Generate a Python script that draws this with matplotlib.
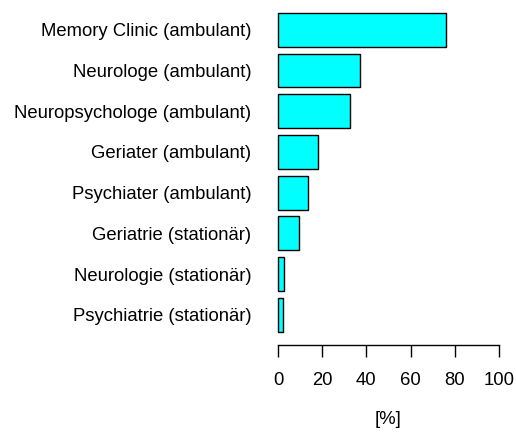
import numpy as np
import matplotlib
matplotlib.use("Agg")
import matplotlib.pyplot as plt

plt.rcParams["font.family"] = ["Liberation Sans", "DejaVu Sans"]

# data (top to bottom)
LABELS = [
    "Memory Clinic (ambulant)",
    "Neurologe (ambulant)",
    "Neuropsychologe (ambulant)",
    "Geriater (ambulant)",
    "Psychiater (ambulant)",
    "Geriatrie (stationär)",
    "Neurologie (stationär)",
    "Psychiatrie (stationär)",
]
VALUES = [75.9, 37.3, 32.7, 18.1, 13.4, 9.5, 2.6, 2.2]
XTICKS = [0, 20, 40, 60, 80, 100]
FS = 13.3

fig = plt.figure(figsize=(5.16, 4.32), dpi=100)
ax = fig.add_axes([0.5217, 0.2021, 0.4624, 0.7979])

n = len(VALUES)
ypos = np.arange(n)[::-1]
ax.barh(ypos, VALUES, height=1 / 1.2, color="#00FFFF",
        edgecolor="black", linewidth=1.0)

ax.set_xlim(-4, 104)
ax.set_ylim(-0.4167 - 0.313, n - 1 + 0.4167 + 0.313)

for s in ["top", "right", "left"]:
    ax.spines[s].set_visible(False)
ax.spines["bottom"].set_bounds(0, 100)
ax.spines["bottom"].set_linewidth(1.0)

ax.set_xticks(XTICKS)
ax.set_xticklabels([str(t) for t in XTICKS], fontsize=FS)
ax.tick_params(axis="x", length=8.6, width=1.0, pad=11)

ax.set_yticks(ypos)
ax.set_yticklabels(LABELS, fontsize=FS)
ax.tick_params(axis="y", length=0, pad=13)

ax.set_xlabel("[%]", fontsize=FS, labelpad=16)

fig.savefig("out.png", dpi=100)
